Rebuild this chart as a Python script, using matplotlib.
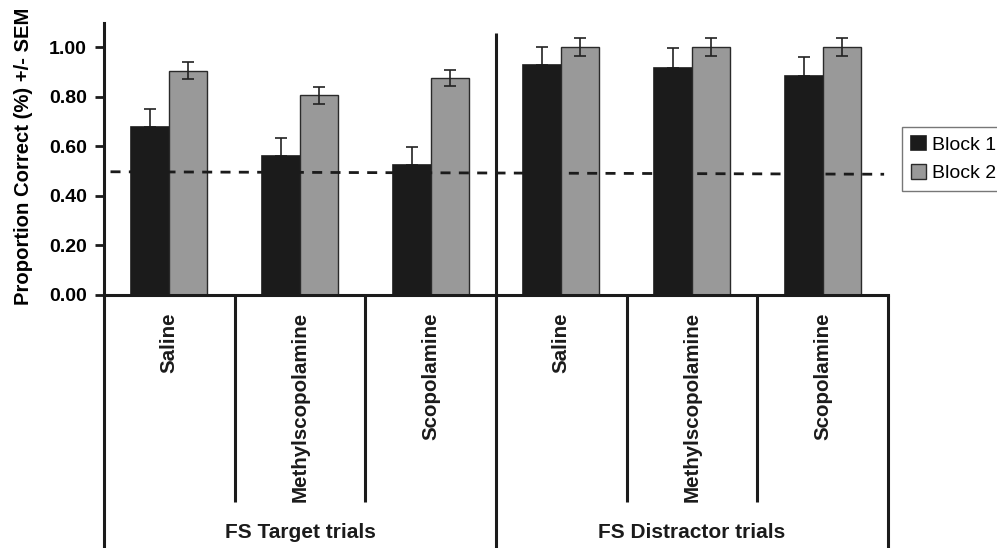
import matplotlib
matplotlib.use("Agg")
import numpy as np
from matplotlib import pyplot as plt
from matplotlib import transforms

plt.rcParams['font.family'] = ['Liberation Sans', 'DejaVu Sans']

# data
drugs = ["Saline", "Methylscopolamine", "Scopolamine",
         "Saline", "Methylscopolamine", "Scopolamine"]
trial_groups = ["FS Target trials", "FS Distractor trials"]
block1 = [0.677, 0.559, 0.525, 0.927, 0.917, 0.883]
block1_sem = [0.074, 0.073, 0.073, 0.073, 0.078, 0.077]
block2 = [0.904, 0.806, 0.876, 1.000, 1.000, 1.000]
block2_sem = [0.034, 0.034, 0.032, 0.035, 0.035, 0.035]
chance_x = [-0.45, 5.47]
chance_y = [0.497, 0.487]

fig = plt.figure(figsize=(9.97, 5.48), dpi=100)
ax = fig.add_axes([0.1043, 0.4617, 0.7864, 0.4963])

x = np.arange(len(drugs))
w = 0.29
ax.bar(x - w / 2, block1, w, color='#1b1b1b', edgecolor='#1b1b1b', linewidth=1.2,
       label="Block 1", zorder=2)
ax.bar(x + w / 2, block2, w, color='#999999', edgecolor='#2a2a2a', linewidth=1,
       label="Block 2", zorder=2)
# block 1 only shows the upper half of the error bar; the lower cap hides under the bar
ax.errorbar(x - w / 2, block1, yerr=[np.zeros(len(x)), block1_sem], fmt='none',
            ecolor='#222222', elinewidth=1.2, capsize=4, capthick=1.2, zorder=1)
ax.errorbar(x + w / 2, block2, yerr=block2_sem, fmt='none',
            ecolor='#222222', elinewidth=1.2, capsize=4, capthick=1.2, zorder=3)

ax.plot(chance_x, chance_y, color='#1b1b1b', lw=2, dashes=(3.6, 3), zorder=4,
        clip_on=False)

ax.set_xlim(-0.5, len(drugs) - 0.5)
ax.set_ylim(0, 1.097)
ax.set_yticks(np.arange(0, 1.01, 0.2))
ax.set_yticklabels([f"{v:.2f}" for v in np.arange(0, 1.01, 0.2)],
                   fontsize=14, fontweight='bold')
ax.set_xticks([])
ax.tick_params(axis='y', direction='out', length=6.5, width=2, pad=6, color='#1b1b1b')
for s in ['top', 'right']:
    ax.spines[s].set_visible(False)
for s in ['left', 'bottom']:
    ax.spines[s].set_linewidth(2.2)
    ax.spines[s].set_color('#1b1b1b')

ax.set_ylabel("Proportion Correct (%) +/- SEM", fontsize=14.6, fontweight='bold')
ax.yaxis.set_label_coords(-0.0906, 0.51)

# hierarchical category axis below the plot
trans = transforms.blended_transform_factory(ax.transData, ax.transAxes)
lk = dict(color='#1b1b1b', lw=2.2, transform=trans, clip_on=False,
          solid_capstyle='butt')
ax.plot([-0.5, -0.5], [0, -0.95], **lk)
ax.plot([5.5, 5.5], [0, -0.95], **lk)
ax.plot([2.5, 2.5], [0.963, -0.95], **lk)
for b in [0.5, 1.5, 3.5, 4.5]:
    ax.plot([b, b], [0, -0.76], **lk)

for i, name in enumerate(drugs):
    ax.text(i, -0.063, name, transform=trans, rotation=90, ha='center', va='top',
            fontsize=14.8, fontweight='bold', color='#1b1b1b')
for j, g in enumerate(trial_groups):
    ax.text(1 + 3 * j, -0.872, g, transform=trans, ha='center', va='center',
            fontsize=15, fontweight='bold', color='#1b1b1b',
            family=['Liberation Sans Narrow', 'Liberation Sans'])

leg = fig.legend(loc='upper left', bbox_to_anchor=(0.905, 1 - 127 / 548),
                 fontsize=14, frameon=True, fancybox=False, handlelength=0.75,
                 handleheight=0.75, handletextpad=0.35, borderpad=0.45,
                 labelspacing=0.55, borderaxespad=0)
leg.get_frame().set_edgecolor('#555555')
leg.get_frame().set_linewidth(1)

fig.savefig("out.png", dpi=100)
